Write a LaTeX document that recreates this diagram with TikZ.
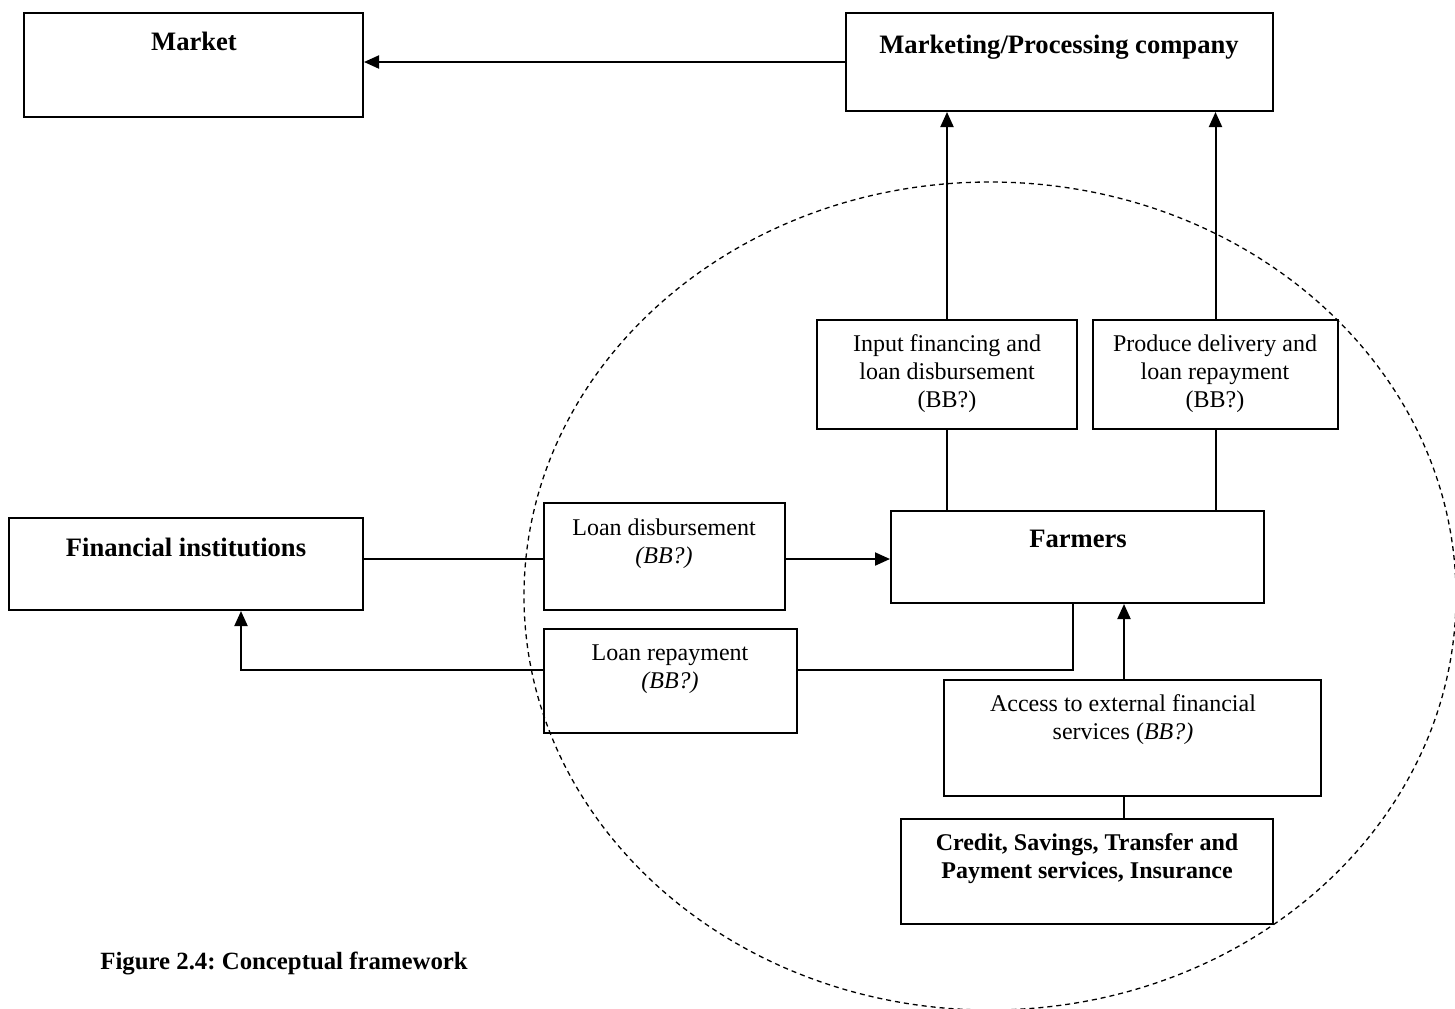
\documentclass[tikz,border=0pt]{standalone}
\usepackage{fontspec}
\setmainfont{Liberation Serif}
\usetikzlibrary{arrows.meta,fit}
\frenchspacing
\begin{document}
\begin{tikzpicture}[x=0.5pt,y=-0.5pt,
  box/.style={draw,line width=1pt,inner sep=0pt},
  txt/.style={font=\fontsize{12}{14}\selectfont, align=center, inner sep=0pt},
  btxt/.style={txt,font=\fontsize{12}{14}\selectfont\bfseries},
  bbtxt/.style={txt,font=\fontsize{13.3}{15}\selectfont\bfseries},
  captxt/.style={txt,font=\fontsize{12.4}{14}\selectfont\bfseries},
  conn/.style={line width=1pt},
  arr/.style={conn,-{Triangle[length=7.5pt,width=6.5pt]}},
  circ/.style={dash pattern=on 2.5pt off 2pt, line width=0.65pt}]
\useasboundingbox (0,0) rectangle (1455,1008);
\clip (0,0) rectangle (1455,1008);

% dashed ellipse
\draw[circ] (990,596) ellipse [x radius=233pt, y radius=207pt];

% boxes
\node[box, fit={(24,13) (363,117)}] (market) {};
\node[box, fit={(846,13) (1273,111)}] (mpc) {};
\node[box, fit={(817,320) (1077,429)}] (input) {};
\node[box, fit={(1093,320) (1338,429)}] (produce) {};
\node[box, fit={(891,511) (1264,603)}] (farmers) {};
\node[box, fit={(9,518) (363,610)}] (fin) {};
\node[box, fit={(544,503) (785,610)}] (ld) {};
\node[box, fit={(544,629) (797,733)}] (lr) {};
\node[box, fit={(944,680) (1321,796)}] (access) {};
\node[box, fit={(901,819) (1273,924)}] (credit) {};

% texts
\node[bbtxt] (tmarket) at (194,41) {Market};
\node[bbtxt] (tmpc) at (1059,47) {Marketing/Processing company};
\node[txt] (tinput) at (947,374) {Input financing and\\loan disbursement\\(BB?)};
\node[txt] (tproduce) at (1215,374) {Produce delivery and\\loan repayment\\(BB?)};
\node[bbtxt] (tfarmers) at (1078,539) {Farmers};
\node[bbtxt] (tfin) at (186,547) {Financial institutions};
\node[txt] (tld) at (664,544) {Loan disbursement\\\textit{(BB?)}};
\node[txt] (tlr) at (670,669) {Loan repayment\\\textit{(BB?)}};
\node[txt] (taccess) at (1123,720) {Access to external financial\\services (\textit{BB?)}};
\node[btxt] (tcredit) at (1087,859) {Credit, Savings, Transfer and\\Payment services, Insurance};
\node[captxt, anchor=west] (caption) at (100,963) {Figure 2.4: Conceptual framework};

% helper coordinates
\coordinate (ly) at (0,559);
\coordinate (ry) at (0,670);
\coordinate (fx) at (241,0);
\coordinate (rx) at (1073,0);
\coordinate (ax) at (1124,0);
\coordinate (my) at (0,62);

% connectors
\draw[arr] (mpc.west |- my) -- (market.east |- my);
\draw[arr] (input.north) -- (input.north |- mpc.south);
\draw[arr] (produce.north) -- (produce.north |- mpc.south);
\draw[conn] (input.south) -- (input.south |- farmers.north);
\draw[conn] (produce.south) -- (produce.south |- farmers.north);
\draw[conn] (fin.east |- ly) -- (ld.west |- ly);
\draw[arr] (ld.east |- ly) -- (farmers.west |- ly);
\draw[conn] (farmers.south -| rx) -- (rx |- ry) -- (lr.east |- ry);
\draw[arr] (lr.west |- ry) -- (fx |- ry) -- (fin.south -| fx);
\draw[arr] (access.north -| ax) -- (farmers.south -| ax);
\draw[conn] (access.south -| ax) -- (credit.north -| ax);
\end{tikzpicture}
\end{document}
